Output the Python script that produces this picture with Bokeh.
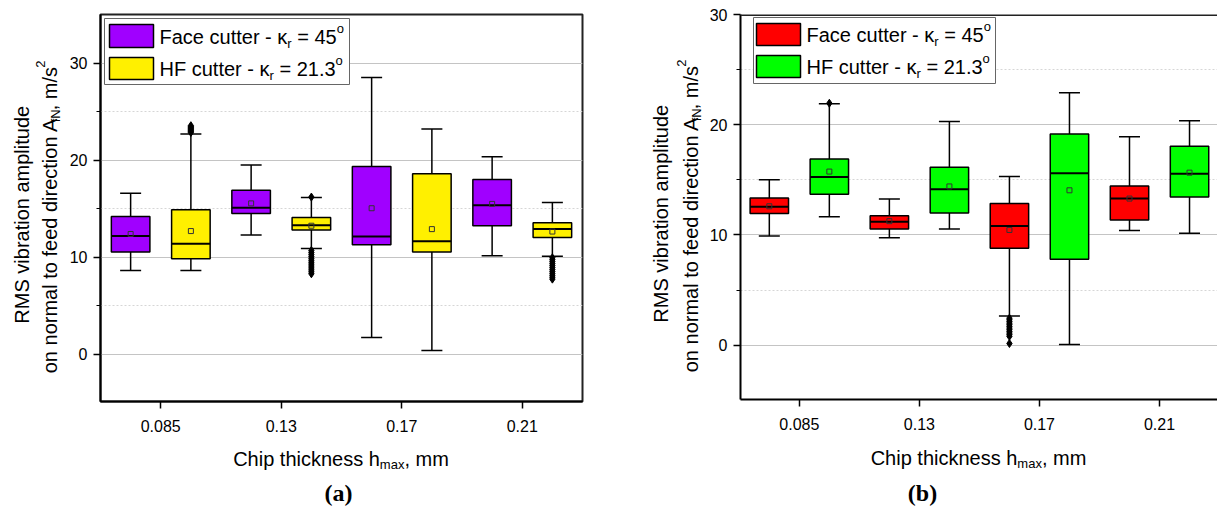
import numpy as np
from bokeh.plotting import figure
from bokeh.models import Label, BoxAnnotation, FixedTicker, ColumnDataSource, Range1d, Span
from bokeh.layouts import row, column
from bokeh.embed import file_html
from bokeh.resources import INLINE

# ---------------- data ----------------
categories = ["0.085", "0.13", "0.17", "0.21"]

# panel (a): Face cutter (purple) / HF cutter (yellow)
face_a_q1 = [10.55, 14.5, 11.3, 13.25]
face_a_med = [12.2, 15.1, 12.15, 15.35]
face_a_q3 = [14.2, 16.9, 19.35, 18.0]
face_a_lo = [8.65, 12.3, 1.75, 10.15]
face_a_hi = [16.6, 19.5, 28.5, 20.35]
face_a_mean = [12.4, 15.55, 15.05, 15.5]

hf_a_q1 = [9.85, 12.8, 10.55, 12.05]
hf_a_med = [11.4, 13.3, 11.65, 12.9]
hf_a_q3 = [14.9, 14.1, 18.6, 13.55]
hf_a_lo = [8.65, 10.9, 0.4, 10.1]
hf_a_hi = [22.7, 16.15, 23.2, 15.65]
hf_a_mean = [12.7, 13.25, 12.9, 12.65]

face_a_out = [[], [], [], []]
hf_a_out = [
    [22.85, 22.95, 23.05, 23.15, 23.25, 23.35, 23.45, 23.55],
    [16.2, 10.7, 10.5, 10.3, 10.1, 9.9, 9.7, 9.5, 9.3, 9.1, 8.9, 8.7, 8.5, 8.3],
    [],
    [9.95, 9.75, 9.55, 9.35, 9.15, 8.95, 8.75, 8.55, 8.35, 8.15, 7.95, 7.75],
]

# panel (b): Face cutter (red) / HF cutter (green)
face_b_q1 = [11.95, 10.55, 8.8, 11.35]
face_b_med = [12.55, 11.2, 10.8, 13.3]
face_b_q3 = [13.35, 11.75, 12.85, 14.45]
face_b_lo = [9.9, 9.75, 2.65, 10.4]
face_b_hi = [15.0, 13.25, 15.3, 18.9]
face_b_mean = [12.6, 11.25, 10.45, 13.3]

hf_b_q1 = [13.7, 12.0, 7.8, 13.45]
hf_b_med = [15.25, 14.15, 15.6, 15.55]
hf_b_q3 = [16.9, 16.15, 19.15, 18.05]
hf_b_lo = [11.65, 10.55, 0.05, 10.15]
hf_b_hi = [21.9, 20.3, 22.9, 20.35]
hf_b_mean = [15.75, 14.4, 14.05, 15.65]

face_b_out = [[], [], [2.45, 2.3, 2.15, 2.0, 1.85, 1.7, 1.55, 1.4, 1.25, 1.1, 0.95, 0.8, 0.15], []]
hf_b_out = [[21.95], [], [], []]

y_ticks = [0, 10, 20, 30]
y_minor = [5, 15, 25]

# ---------------- helpers ----------------
FONT = "Liberation Sans"
SERIF = "Liberation Serif"
WID = {' ': 278, '(': 333, ')': 333, ',': 278, '-': 333, '.': 278, '/': 278, '=': 584,
       'A': 667, 'C': 722, 'F': 611, 'H': 722, 'M': 833, 'N': 722, 'R': 722, 'S': 667,
       'a': 556, 'b': 556, 'c': 500, 'd': 556, 'e': 556, 'f': 278, 'h': 556, 'i': 222,
       'k': 500, 'l': 222, 'm': 833, 'n': 556, 'o': 556, 'p': 556, 'r': 333, 's': 500,
       't': 278, 'u': 556, 'v': 500, 'x': 500, 'κ': 500}


def tw(s, size):
    return sum(WID.get(c, 556) for c in s) / 1000.0 * size


def mklabel(x, y, text, size, units, angle=0.0, align="left", font=FONT, style="normal"):
    return Label(x=x, y=y, x_units=units, y_units=units, text=text, text_font=font,
                 text_font_size=f"{size}px", text_align=align, text_baseline="middle",
                 angle=angle, text_font_style=style, text_color="black")


class Canvas:
    """Maps page-like coordinates (X right, Y down) onto a figure."""

    def __init__(self, p, x0, y0, units, h=None):
        self.p, self.x0, self.y0, self.units, self.h = p, x0, y0, units, h

    def put(self, X, Y, text, size, angle=0.0, align="left", font=FONT, style="normal"):
        if self.units == "screen":   # frame relative, y up from frame bottom
            x, y = X - self.x0, self.y0 - Y
        else:                        # data units of a text-only figure, y up
            x, y = X - self.x0, self.h - (Y - self.y0)
        self.p.add_layout(mklabel(x, y, text, size, self.units, angle, align, font, style))

    @staticmethod
    def _span(t, s):
        lead = len(t) - len(t.lstrip(" "))
        core = t.strip(" ")
        return tw(" " * lead, s), tw(core, s), tw(t, s), core

    def rich_h(self, X, Yc, parts, left=False):
        total = sum(tw(t, s) for t, s, sh in parts)
        x = X if left else X - total / 2.0
        for t, s, sh in parts:
            lead, wc, w, core = self._span(t, s)
            self.put(x + lead + wc / 2.0, Yc + sh, core, s, align="center")
            x += w

    def rich_v(self, Xc, Yc, parts):
        total = sum(tw(t, s) for t, s, sh in parts)
        y = Yc + total / 2.0
        for t, s, sh in parts:
            lead, wc, w, core = self._span(t, s)
            self.put(Xc + sh, y - lead - wc / 2.0, core, s, angle=np.pi / 2, align="center")
            y -= w

    def box(self, X0, Y0, X1, Y1, fill, line, lw):
        self.p.add_layout(BoxAnnotation(
            left=X0 - self.x0, right=X1 - self.x0, top=self.y0 - Y0, bottom=self.y0 - Y1,
            left_units="screen", right_units="screen", top_units="screen", bottom_units="screen",
            fill_color=fill, fill_alpha=1.0, line_color=line, line_width=lw, line_alpha=1.0))


def text_fig(w, h, ybottom=0):
    # ybottom: height that the row layout reserves below this figure's frame
    t = figure(width=w, height=h, x_range=Range1d(0, w), y_range=Range1d(ybottom, h),
               output_backend="svg", toolbar_location=None, min_border=0,
               x_axis_location=None, y_axis_location=None)
    t.outline_line_color = None
    t.grid.visible = False
    t.background_fill_color = "white"
    t.border_fill_color = "white"
    return t


def make_fig(width, height, mbl, mbr, mbb, xr, yr, outline=True):
    p = figure(width=width, height=height, x_range=Range1d(*xr), y_range=Range1d(*yr),
               output_backend="svg", toolbar_location=None,
               min_border_left=mbl, min_border_right=mbr, min_border_top=14,
               min_border_bottom=mbb)
    p.background_fill_color = "white"
    p.border_fill_color = "white"
    if outline:
        p.outline_line_color = "#222222"
        p.outline_line_width = 2
        p.outline_line_alpha = 1.0
    else:
        p.outline_line_color = None
    p.xgrid.visible = False
    p.ygrid.grid_line_color = "#C4C4C4"
    p.ygrid.grid_line_width = 1
    p.ygrid.minor_grid_line_color = "#D6D6D6"
    p.ygrid.minor_grid_line_dash = "2 2"
    p.xaxis.ticker = FixedTicker(ticks=list(range(len(categories))))
    p.xaxis.major_label_overrides = {i: c for i, c in enumerate(categories)}
    p.yaxis.ticker = FixedTicker(ticks=y_ticks, minor_ticks=y_minor)
    for ax in (p.xaxis, p.yaxis):
        ax.axis_line_width = 2
        ax.axis_line_color = "black"
        ax.major_tick_in = 0
        ax.major_tick_out = 7
        ax.major_tick_line_width = 1.5
        ax.major_tick_line_color = "black"
        ax.minor_tick_in = 0
        ax.minor_tick_out = 4
        ax.minor_tick_line_width = 1
        ax.minor_tick_line_color = "black"
        ax.major_label_text_font = FONT
        ax.major_label_text_font_size = "16px"
        ax.major_label_text_color = "black"
    p.yaxis.major_label_standoff = 6
    p.xaxis.major_label_standoff = 11
    p.xaxis.minor_tick_line_color = None
    return p


def draw_boxes(p, q1, med, q3, lo, hi, mean, outs, color, off):
    xs = np.arange(len(categories)) + off
    src = ColumnDataSource(dict(x=xs, q1=q1, med=med, q3=q3, lo=lo, hi=hi, mean=mean,
                                ml=xs - 0.16, mr=xs + 0.16))
    p.segment(x0="x", y0="lo", x1="x", y1="hi", source=src, line_color="black", line_width=1.5)
    p.scatter(x="x", y="lo", marker="dash", size=21, line_color="black", line_width=1.5, source=src)
    p.scatter(x="x", y="hi", marker="dash", size=21, line_color="black", line_width=1.5, source=src)
    p.vbar(x="x", bottom="q1", top="q3", width=0.32, fill_color=color, line_color="black",
           line_width=1.5, source=src)
    p.segment(x0="ml", y0="med", x1="mr", y1="med", source=src, line_color="black", line_width=2)
    p.scatter(x="x", y="mean", marker="square", size=5, fill_color=None, line_color="#333333",
              line_width=1, source=src)
    ox, oy = [], []
    for i, vals in enumerate(outs):
        ox += [xs[i]] * len(vals)
        oy += list(vals)
    if oy:
        p.scatter(x=ox, y=oy, marker="diamond", size=8, fill_color="black", line_color="black")


legend_labels = [
    [("Face cutter - κ", 20, 0), ("r", 13, 7), (" = 45", 20, 0), ("o", 13, -8)],
    [("HF cutter - κ", 20, 0), ("r", 13, 7), (" = 21.3", 20, 0), ("o", 13, -8)],
]


def legend(cv, x0, y0, x1, y1, sw_x0, sw_x1, rows, tx, colors):
    cv.box(x0, y0, x1, y1, "white", "#666666", 1)
    for (ry0, ry1, yc), col, lab in zip(rows, colors, legend_labels):
        cv.box(sw_x0, ry0, sw_x1, ry1, col, "black", 1.5)
        cv.rich_h(tx, yc, lab, left=True)


ytitle1 = [("RMS vibration amplitude", 20, 0)]
ytitle2 = [("on normal to feed direction A", 20, 0), ("fN", 13, 6), (", m/s", 20, 0), ("2", 13, -9)]
xtitle = [("Chip thickness h", 20, 0), ("max", 13, 6), (", mm", 20, 0)]

TOP_H = 440

# ---------------- panel (a) ----------------
# global x: ya 0..66, pa 66..630 (frame 99..582), xa 0..630 (y 440..507)
ya = text_fig(66, TOP_H, ybottom=39)
pa = make_fig(564, TOP_H, 33, 48, 39, (-0.5, 3.5), (-4.85, 35))
xa = text_fig(630, 507 - TOP_H)
draw_boxes(pa, face_a_q1, face_a_med, face_a_q3, face_a_lo, face_a_hi, face_a_mean, face_a_out, "#A000FF", -0.25)
draw_boxes(pa, hf_a_q1, hf_a_med, hf_a_q3, hf_a_lo, hf_a_hi, hf_a_mean, hf_a_out, "#FFF000", 0.25)
cva = Canvas(pa, 99, 401, "screen")
legend(cva, 103, 18, 348, 84, 108, 152, [(24, 47, 36), (57, 79, 68)], 158, ["#A000FF", "#FFF000"])
cya = Canvas(ya, 0, 0, "data", TOP_H)
cya.rich_v(21, 207.5, ytitle1)
cya.rich_v(49, 207.5, ytitle2)
cxa = Canvas(xa, 0, TOP_H, "data", 507 - TOP_H)
cxa.rich_h(340.5, 458, xtitle)
cxa.put(338, 492, "(a)", 24, align="center", font=SERIF, style="bold")

# ---------------- panel (b) ----------------
# global x: yb 630..706, pb 706..1217 (frame 739..1217), xb 630..1217
yb = text_fig(76, TOP_H, ybottom=41)
pb = make_fig(511, TOP_H, 33, 0, 41, (-0.49, 3.483), (-4.93, 30), outline=False)
pb.add_layout(Span(location=30, dimension="width", line_color="#222222", line_width=3))
xb = text_fig(587, 507 - TOP_H)
draw_boxes(pb, face_b_q1, face_b_med, face_b_q3, face_b_lo, face_b_hi, face_b_mean, face_b_out, "#FF0000", -0.25)
draw_boxes(pb, hf_b_q1, hf_b_med, hf_b_q3, hf_b_lo, hf_b_hi, hf_b_mean, hf_b_out, "#00FF00", 0.25)
cvb = Canvas(pb, 739, 399, "screen")
legend(cvb, 752, 17, 994, 83, 755, 799, [(23, 45, 34), (55, 77, 66)], 805, ["#FF0000", "#00FF00"])
cyb = Canvas(yb, 630, 0, "data", TOP_H)
cyb.rich_v(660, 206.5, ytitle1)
cyb.rich_v(690, 206.5, ytitle2)
cxb = Canvas(xb, 630, TOP_H, "data", 507 - TOP_H)
cxb.rich_h(978, 457, xtitle)
cxb.put(922, 492, "(b)", 24, align="center", font=SERIF, style="bold")

layout = row(column(row(ya, pa), xa), column(row(yb, pb), xb))
open("out.html", "w").write(file_html(layout, INLINE))
